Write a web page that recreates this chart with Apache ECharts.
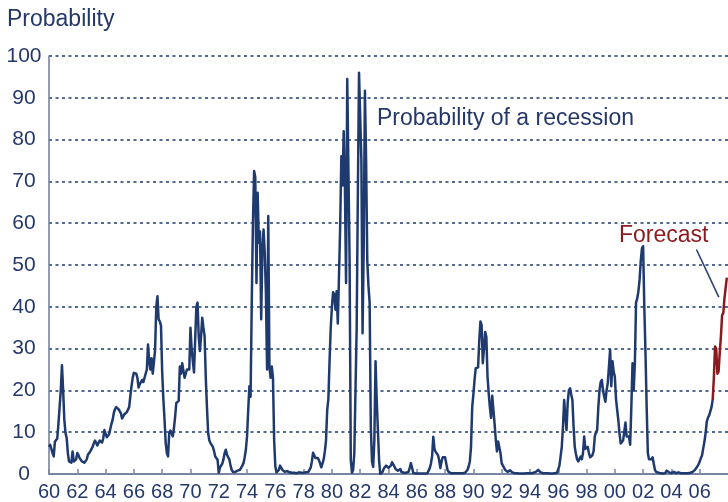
<!DOCTYPE html>
<html>
<head>
<meta charset="utf-8">
<script src="https://cdn.jsdelivr.net/npm/echarts@6/dist/echarts.min.js"></script>
<style>
html,body{margin:0;padding:0;background:#fff;}
#chart{width:728px;height:502px;}
</style>
</head>
<body>
<div id="chart"></div>
<script>
// Monthly recession probability (%), January 1960 onward
const prob1960s = [
  6.5, 7, 6, 5, 4.2, 7.7, 7.5, 8.5, 12, 16, 20, 26,
  20, 13, 9.8, 8.6, 5, 3, 3, 2.7, 5.4, 3, 3.2, 3.5,
  5, 4.5, 3.8, 3.5, 3, 2.7, 2.7, 2.7, 3.5, 4.6, 5, 5.4,
  5.7, 6.5, 7.3, 8, 7.5, 6.8, 7, 8, 7.8, 7.5, 8.5, 10.5,
  10.5, 8.8, 9, 9.5, 9.8, 12, 13, 14.6, 15.5, 16, 15.8, 15.5,
  15.5, 14.5, 13.3, 13.8, 14.3, 14.5, 14.8, 15, 16, 18.6, 21, 23,
  24.2, 24.5, 24, 23, 20.7, 21.5, 22, 22.5, 22, 23, 23, 25,
  31, 27, 25, 27.7, 24, 26.7, 29.7, 40, 42.5, 37, 36.5, 35.5,
  24.5, 18, 13, 7.4, 5, 4.2, 9.8, 10.4, 10, 9, 11, 13.7,
  17, 17, 17.5, 25.7, 24, 26.5, 26.5, 23, 24, 25, 25, 25
];
const prob1970s = [
  35, 30, 27, 24.3, 24.3, 40, 41, 33, 29.4, 33, 37.4, 35,
  33, 23, 16, 9.8, 8, 7.4, 7, 6.5, 5.5, 4.2, 4, 3.4,
  0.3, 1.5, 2, 2.5, 3.5, 5, 5.8, 4.6, 4, 3.5, 2, 1,
  0.5, 0.3, 0.5, 0.6, 0.8, 1, 1, 1.5, 2, 2.6, 4, 5.8,
  9, 15.3, 21, 18.5, 41, 60, 72.5, 71, 45.7, 67.3, 55.3, 58,
  37, 53.7, 58.5, 53, 43.4, 25, 61.7, 25.7, 23, 25.7, 23, 8,
  1.8, 0.4, 0.5, 1, 2, 1.5, 1, 0.8, 0.5, 0.5, 0.7, 0.6,
  0.4, 0.3, 0.3, 0.2, 0.3, 0.3, 0.2, 0.3, 0.4, 0.3, 0.3, 0.4,
  0.3, 0.3, 0.4, 0.3, 0.5, 0.8, 1.5, 3, 5.1, 4.5, 3.8, 3.5,
  3.8, 3.3, 2.5, 1.6, 2, 3.5, 5.4, 8, 15.3, 18, 27, 35
];
const prob1980s = [
  40, 43.5, 43, 39.3, 43.7, 36, 47.3, 59.3, 76, 69, 82, 69,
  45.7, 94.5, 94.5, 51, 3.4, 0.3, 1, 5, 20, 35, 67, 96,
  96, 75, 33.7, 55, 91.7, 75, 51, 45, 41, 11.3, 3, 1.7,
  8, 27, 17.7, 17.7, 3.4, 0, 0.3, 0.5, 1.3, 1, 2, 2.3,
  1.5, 1.8, 2, 2.8, 2.5, 1.8, 1.2, 1, 0.8, 1, 1.2, 0.5,
  0.5, 0.3, 0.2, 0.3, 0.4, 0.5, 1.5, 2.6, 1.5, 0.3, 0.1, 0.1,
  0.1, 0.1, 0.1, 0.1, 0.1, 0.1, 0.1, 0.1, 0.1, 0.2, 0.5, 1.4,
  2.5, 4.3, 8.9, 6, 5.3, 5.7, 4.5, 3.3, 1.4, 3, 4, 4.2,
  4, 3.8, 1, 0.5, 0.3, 0.2, 0.2, 0.2, 0.2, 0.2, 0.1, 0.2,
  0.2, 0.2, 0.2, 0.2, 0.3, 0.3, 0.5, 1, 1.8, 3, 6.5, 16
];
const prob1990s = [
  19, 22.5, 25.3, 25.5, 25.5, 32, 36.5, 35.6, 26.5, 30, 34, 32.8,
  23.3, 19.3, 16, 13.4, 18.7, 15.3, 12, 8.2, 5.4, 7.8, 7.4, 5,
  2.6, 2, 1.5, 1, 0.8, 0.5, 0.6, 0.9, 0.6, 0.4, 0.3, 0.2,
  0.2, 0.2, 0.1, 0.1, 0.1, 0.1, 0.1, 0.1, 0.1, 0.2, 0.2, 0.2,
  0.2, 0.2, 0.3, 0.3, 0.3, 0.5, 0.8, 1, 0.6, 0.4, 0.3, 0.2,
  0.2, 0.2, 0.2, 0.2, 0.1, 0.1, 0.1, 0.1, 0.2, 0.2, 0.3, 0.3,
  0.5, 2, 4.2, 6.5, 11.3, 17.7, 14, 10.5, 17, 20, 20.5, 19,
  17.7, 11.3, 6.5, 4.8, 3.5, 3, 3.2, 4.2, 3.5, 5, 9, 6,
  5.8, 6.5, 5, 4, 3.7, 4.5, 5.5, 9, 10, 10.5, 16, 20,
  22, 22.5, 20, 18.5, 17.3, 20, 21.7, 25.7, 29.7, 21, 27, 24.5
];
const prob2000s = [
  23.3, 18, 15.3, 12.8, 9.6, 7.3, 7.7, 8, 8, 12.3, 9, 9,
  9, 7, 16, 26.5, 20, 26.5, 41, 42, 43.7, 46.5, 51, 54,
  54.5, 40, 29, 16, 5, 3.5, 3.3, 3.5, 4, 2.5, 1, 0.5,
  0.3, 0.3, 0.2, 0.2, 0.1, 0.1, 0.2, 0.3, 0.8, 1, 0.4, 0.2,
  0.2, 0.3, 0.5, 0.3, 0.2, 0.2, 0.4, 0.3, 0.2, 0.2, 0.2, 0.2,
  0.2, 0.2, 0.2, 0.2, 0.3, 0.3, 0.5, 0.8, 1, 1.4, 1.8, 2.3,
  3, 3.8, 4.5, 6.2, 7.7, 9.8, 12.5, 13.5, 14, 15, 16, 17.7
];
// Forecast, monthly from December 2006
const forecastProb = [17.7, 23, 30.5, 30, 24, 24.5, 29, 33, 38, 38.5, 42, 44.5, 47];
const forecastStart = 2006 + 11 / 12;
const yTicks = [0, 10, 20, 30, 40, 50, 60, 70, 80, 90, 100];

const history = [].concat(prob1960s, prob1970s, prob1980s, prob1990s, prob2000s);
const histData = history.map((v, i) => [1960 + i / 12, v]);
const fcData = forecastProb.map((v, i) => [forecastStart + i / 12, v]);

const navy = '#1f3a6e';
const textNavy = '#24386a';
const red = '#8b1a1e';
const font = '"Liberation Sans", Arial, sans-serif';

const chart = echarts.init(document.getElementById('chart'), null, {renderer: 'canvas'});
chart.setOption({
  animation: false,
  backgroundColor: '#ffffff',
  grid: {left: 49, right: 0, top: 56, bottom: 28, containLabel: false},
  xAxis: {
    type: 'value', min: 1960, max: 2008, interval: 2,
    axisLine: {show: true, lineStyle: {color: '#7886a3', width: 2}},
    axisTick: {show: true, inside: true, length: 5, lineStyle: {color: '#7886a3', width: 1.5}},
    splitLine: {show: false},
    axisLabel: {
      showMaxLabel: false, margin: 8,
      color: textNavy, fontFamily: font, fontSize: 20,
      formatter: v => String(Math.round(v) % 100).padStart(2, '0')
    }
  },
  yAxis: {
    type: 'value', min: 0, max: 100, interval: 10,
    axisLine: {show: true, lineStyle: {color: '#6d7b99', width: 1.5}},
    axisTick: {show: false},
    splitLine: {show: true, lineStyle: {color: navy, width: 1.6, type: [3, 3.5]}},
    axisLabel: {
      margin: 25, align: 'center', color: textNavy, fontFamily: font, fontSize: 21,
      padding: [0, 0, 7, 0],
      formatter: v => yTicks.includes(v) ? String(v) : ''
    }
  },
  series: [
    {
      type: 'line', data: histData, showSymbol: false, z: 3,
      lineStyle: {color: navy, width: 2.5, join: 'round'},
      itemStyle: {color: navy}
    },
    {
      type: 'line', data: fcData, showSymbol: false, z: 4,
      lineStyle: {color: red, width: 2.5, join: 'round'},
      itemStyle: {color: red},
      markLine: {
        silent: true, symbol: ['none', 'none'], label: {show: false},
        lineStyle: {color: '#2e4272', width: 1.6, type: 'solid'},
        data: [[{coord: [2005.77, 53.7]}, {coord: [2007.35, 42.3]}]]
      }
    }
  ],
  graphic: [
    {type: 'text', left: 7, top: 8, style: {text: 'Probability', fill: textNavy, font: '23px ' + font}},
    {type: 'text', left: 377, top: 107, style: {text: 'Probability of a recession', fill: textNavy, font: '23px ' + font}},
    {type: 'text', left: 619, top: 224, style: {text: 'Forecast', fill: red, font: '23px ' + font}}
  ]
});
</script>
</body>
</html>
